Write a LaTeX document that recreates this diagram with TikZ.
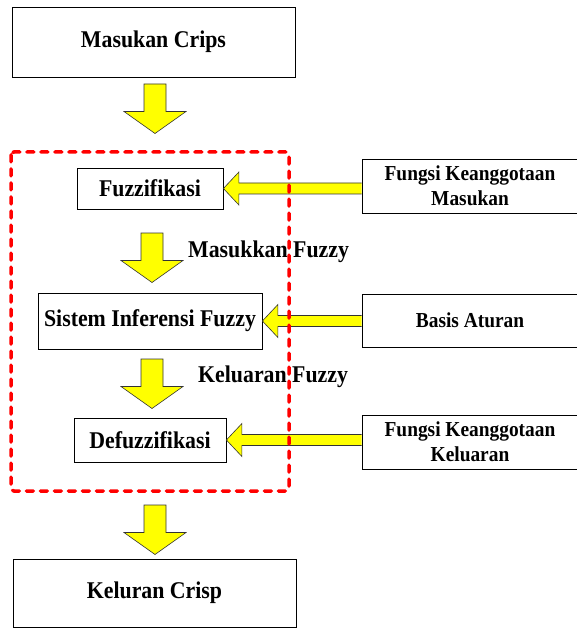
\documentclass[tikz,border=0pt]{standalone}
\usepackage{fontspec}
\setmainfont[FakeStretch=0.91]{Liberation Serif}
\usetikzlibrary{calc}
\definecolor{ayellow}{RGB}{255,255,0}
\definecolor{dred}{RGB}{255,0,0}
\tikzset{
  box/.style={draw=black, line width=0.8pt, fill=white, inner sep=0pt, align=center,
    font=\bfseries\fontsize{24}{26}\selectfont},
  rbox/.style={box, font=\bfseries\fontsize{21.3}{25}\selectfont},
  lbl/.style={inner sep=0pt, anchor=west, font=\bfseries\fontsize{24}{26}\selectfont},
  arrowfill/.style={fill=ayellow, draw=black!80, line width=0.6pt, line join=miter},
  darrow/.pic={\filldraw[arrowfill] (-11,0) -- (11,0) -- (11,27.5) -- (31,27.5) -- (0,49.5) -- (-31,27.5) -- (-11,27.5) -- cycle;},
  redframe/.style={draw=dred, line width=3.5pt, dash pattern=on 7pt off 7pt, line cap=round, rounded corners=3pt}
}
\newcommand{\leftblock}[2]{%
  \filldraw[arrowfill] let \p1=(#1.west), \p2=(#2.east) in
    (\x1,\y2+5.5pt) -- (\x2+15.5pt,\y2+5.5pt) -- (\x2+15.5pt,\y2+16.5pt) -- (\x2,\y2)
    -- (\x2+15.5pt,\y2-16.5pt) -- (\x2+15.5pt,\y2-5.5pt) -- (\x1,\y2-5.5pt);}
\begin{document}
\begin{tikzpicture}[x=1pt,y=-1pt]
\useasboundingbox (0,0) rectangle (576,628);
% left column boxes
\node[box, minimum width=283pt, minimum height=70pt] (mc) at (153.5,42) {Masukan Crips};
\node[box, minimum width=146pt, minimum height=41pt] (fz) at (150,188.5) {Fuzzifikasi};
\node[box, minimum width=224pt, minimum height=56pt] (sif) at (150,321) {Sistem Inferensi Fuzzy};
\node[box, minimum width=152pt, minimum height=44pt] (df) at (150,440) {Defuzzifikasi};
\node[box, minimum width=283pt, minimum height=68pt] (kc) at (154.5,593) {Keluran Crisp};
% right column boxes
\node[rbox, minimum width=216pt, minimum height=54pt] (fkm) at (470,186) {Fungsi Keanggotaan\\Masukan};
\node[rbox, minimum width=216pt, minimum height=53pt] (ba) at (470,320.5) {Basis Aturan};
\node[rbox, minimum width=216pt, minimum height=54pt] (fkk) at (470,442) {Fungsi Keanggotaan\\Keluaran};
% labels
\node[lbl] (lmf) at (188,252) {Masukkan Fuzzy};
\node[lbl] (lkf) at (198,377) {Keluaran Fuzzy};
% down block arrows
\coordinate (a1) at (155,84);
\coordinate (a2) at (152,233);
\coordinate (a3) at (152,359);
\coordinate (a4) at (155,505);
\pic at (a1) {darrow};
\pic at (a2) {darrow};
\pic at (a3) {darrow};
\pic at (a4) {darrow};
% left block arrows
\leftblock{fkm}{fz}
\leftblock{ba}{sif}
\leftblock{fkk}{df}
% red dashed frame
\draw[redframe] (11,152) rectangle (289,491);
\end{tikzpicture}
\end{document}
